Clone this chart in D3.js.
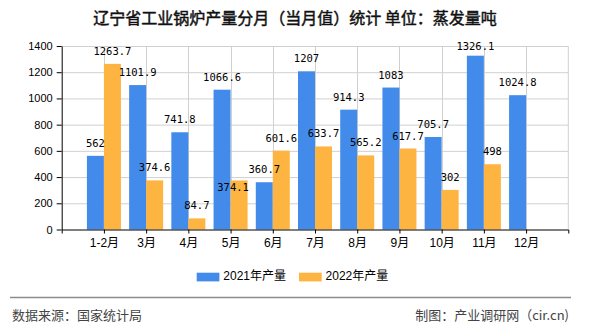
<!DOCTYPE html>
<html><head><meta charset="utf-8">
<script src="https://cdn.jsdelivr.net/npm/d3@7"></script>
<style>
html,body{margin:0;padding:0;background:#fff;}
svg{display:block;}
</style></head>
<body>
<svg id="c" width="590" height="330"></svg>
<script>
const categories = ["1-2月","3月","4月","5月","6月","7月","8月","9月","10月","11月","12月"];
const values2021 = [562,1101.9,741.8,1066.6,360.7,1207,914.3,1083,705.7,1326.1,1024.8];
const values2022 = [1263.7,374.6,84.7,374.1,601.6,633.7,565.2,617.7,302,498,null];
const yTicks = [0,200,400,600,800,1000,1200,1400];
const seriesNames = ["2021年产量","2022年产量"];
const colors = ["#428BEB","#FDB441"];

const svg = d3.select("#c");
const L = 61.7, R = 568.3, T = 46, B = 229.5;
const x = d3.scalePoint().domain(categories).range([L, R]).padding(1);
const y = d3.scaleLinear().domain([0,1400]).range([B, T]);
const bw = 17;
const sansF = "Arial, 'Liberation Sans', 'Noto Sans CJK SC', sans-serif";
const monoF = "'DejaVu Sans Mono', 'Liberation Mono', monospace";

// title
svg.append("text").attr("x",295).attr("y",24).attr("text-anchor","middle")
  .attr("font-family","'Noto Sans CJK SC', sans-serif").attr("font-size",16)
  .attr("fill","#111").attr("stroke","#111").attr("stroke-width",0.45)
  .text("辽宁省工业锅炉产量分月（当月值）统计 单位：蒸发量吨");

// grid
const g = svg.append("g");
g.selectAll("line.h").data(yTicks.slice(1)).enter().append("line")
  .attr("x1",L).attr("x2",R).attr("y1",d=>y(d)+0.5).attr("y2",d=>y(d)+0.5)
  .attr("stroke","#d0d0d0").attr("stroke-width",1);
g.selectAll("line.v").data(categories).enter().append("line")
  .attr("x1",d=>Math.round(x(d))+0.5).attr("x2",d=>Math.round(x(d))+0.5).attr("y1",T).attr("y2",B)
  .attr("stroke","#d0d0d0").attr("stroke-width",1);
g.append("line").attr("x1",R).attr("x2",R).attr("y1",T).attr("y2",B).attr("stroke","#d0d0d0");

// bars
const series = [values2021, values2022];
series.forEach((vals, si) => {
  svg.append("g").selectAll("rect").data(categories.map((c,i)=>({c, v: vals[i]})).filter(d=>d.v!=null))
    .enter().append("rect")
    .attr("x", d => x(d.c) + (si===0 ? -bw : 0))
    .attr("y", d => y(d.v))
    .attr("width", bw)
    .attr("height", d => B - y(d.v))
    .attr("fill", colors[si]);
});

// value labels
const nudges = {"1-3": [-6, 20]};
series.forEach((vals, si) => {
  svg.append("g").selectAll("text").data(categories.map((c,i)=>({c, i, v: vals[i]})).filter(d=>d.v!=null))
    .enter().append("text")
    .attr("x", d => x(d.c) + (si===0 ? -bw/2 : bw/2) + ((nudges[si+"-"+d.i]||[0,0])[0]))
    .attr("y", d => Math.max(y(d.v) - 9, 50) + ((nudges[si+"-"+d.i]||[0,0])[1]))
    .attr("text-anchor","middle")
    .attr("font-family", monoF).attr("font-size",10.5).attr("fill","#000")
    .text(d => String(d.v));
});

// y axis
const ya = svg.append("g").attr("transform",`translate(${L},0)`)
  .call(d3.axisLeft(y).tickValues(yTicks).tickSize(5).tickSizeOuter(0).tickFormat(d3.format("d")));
ya.select(".domain").attr("stroke","#000");
ya.selectAll(".tick line").attr("stroke","#000");
ya.selectAll("text").attr("font-family",sansF).attr("font-size",11).attr("fill","#000").attr("dx",-1);

// x axis
const xa = svg.append("g").attr("transform",`translate(0,${B})`)
  .call(d3.axisBottom(x).tickSize(4).tickSizeOuter(4));
xa.select(".domain").attr("stroke","#000");
xa.selectAll(".tick line").attr("stroke","#000");
xa.selectAll("text").attr("font-family",sansF).attr("font-size",12).attr("fill","#000").attr("dy","0.9em");

// legend
const lg = svg.append("g");
const lx = [196.7, 299];
seriesNames.forEach((n,i)=>{
  lg.append("rect").attr("x",lx[i]).attr("y",272.7).attr("width",22.7).attr("height",8.7).attr("fill",colors[i]);
  lg.append("text").attr("x",lx[i]+26.6).attr("y",277).attr("dominant-baseline","middle")
    .attr("font-family",sansF).attr("font-size",12).attr("fill","#000").text(n);
});

// footer
svg.append("line").attr("x1",10).attr("x2",571).attr("y1",297.5).attr("y2",297.5).attr("stroke","#8c8c8c").attr("stroke-width",1.5);
svg.append("text").attr("x",12).attr("y",320).attr("font-family","'Noto Sans CJK SC', sans-serif").attr("font-size",13).attr("fill","#444").text("数据来源：国家统计局");
svg.append("text").attr("x",569).attr("y",320).attr("text-anchor","end").attr("font-family","'Noto Sans CJK SC', sans-serif").attr("font-size",13).attr("fill","#444").text("制图：产业调研网（cir.cn)");
</script>
</body></html>
